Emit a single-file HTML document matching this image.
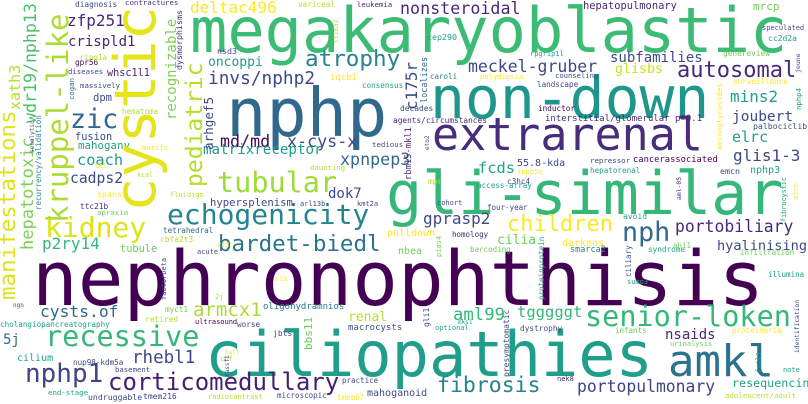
<!DOCTYPE html>
<html><head><meta charset="utf-8">
<style>
html,body{margin:0;padding:0;background:#fff;}
#cloud{position:relative;width:808px;height:404px;overflow:hidden;background:#fff;}
.w{position:absolute;white-space:nowrap;line-height:1;font-family:"DejaVu Sans Mono","Liberation Mono",monospace;}
.v{transform-origin:0 0;transform:rotate(-90deg);}
</style></head>
<body>
<div id="cloud"></div>
<script>
// horizontal words: text, left x, baseline y, font size, colour
const hWords = [
["nephronophthisis",32,305,76,"#440154"],
["megakaryoblastic",190,52,62,"#3cbb75"],
["nphp",226,137,67,"#31688e"],
["non-down",430,118,58,"#1f968b"],
["gli-similar",386,215,60,"#35b779"],
["extrarenal",432,150,45,"#472d7b"],
["ciliopathies",205,376,62,"#1f9e89"],
["amkl",668,377,44,"#2c718e"],
["senior-loken",585,327,28.5,"#35b779"],
["recessive",45,347,28.5,"#35b779"],
["kidney",45,238,28,"#dde318"],
["echogenicity",167,225,28,"#25858e"],
["tubular",217,193,28.5,"#a0da39"],
["corticomedullary",108,390,24,"#481f70"],
["nphp1",25,383,26,"#414487"],
["zic",70,130,26.7,"#31688e"],
["nph",622,243,26.7,"#31688e"],
["bardet-biedl",218,252,22.5,"#2c738e"],
["atrophy",305,67,22.6,"#26828e"],
["autosomal",677,79,22,"#482878"],
["children",507,233,22,"#fde725"],
["fibrosis",437,393,21.5,"#26828e"],
["armcx1",193,317,19,"#a8db34"],
["invs/nphp2",208,85,17.8,"#3e4989"],
["rhebl1",132,365,17.5,"#3e4989"],
["aml99",453,322,17.3,"#35b779"],
["md/md",220,147,16.7,"#46085c"],
["x-cys-x",287,147,16.7,"#3e4989"],
["xpnpep3",340,165,16.7,"#31688e"],
["nonsteroidal",400,14,16.7,"#482878"],
["meckel-gruber",468,73,16.5,"#3e4989"],
["portobiliary",675,233,16.4,"#482878"],
["portopulmonary",577,393,16.4,"#414487"],
["cysts.of",40,318,16.3,"#31688e"],
["gprasp2",423,225,16,"#3e4989"],
["glis1-3",733,162,16,"#3e4989"],
["mins2",730,103,16,"#20a386"],
["p2ry14",42,250,16,"#35b779"],
["deltac496",190,14,16,"#fde725"],
["zfp251",67,27,16,"#482878"],
["fcds",478,174,15.4,"#20a386"],
["tgggggt",517,318,15.5,"#35b779"],
["coach",77,166,15.3,"#1f9e89"],
["elrc",732,143,15,"#20a386"],
["cadps2",70,184,14.7,"#3e4989"],
["joubert",732,122,14.5,"#3e4989"],
["matrixreceptor",203,155,14.2,"#1f9e89"],
["crispld1",68,47,14,"#482475"],
["subfamilies",610,63,14,"#3e4989"],
["dok7",328,199,14,"#3e4989"],
["nsaids",665,340,14,"#482878"],
["5j",3,345,14,"#31688e"],
["hyalinising",717,252,13.6,"#3e4989"],
["glisbs",615,74,13.3,"#c8e020"],
["oncoppi",208,67,13,"#1f9e89"],
["renal",348,322,13,"#b5de2b"],
["cilia",497,245,13,"#6ece58"],
["resequencing",732,388,11.7,"#20a386"],
["mrcp",753,10,11,"#6ece58"],
["hypersplenism",210,207,10.6,"#3e4989"],
["mahogany",78,150,10.8,"#20a386"],
["dpm",93,102,10.5,"#3e4989"],
["hepatopulmonary",583,10,10.4,"#482878"],
["fusion",75,141,10.3,"#3e4989"],
["tubule",120,253,10.3,"#6ece58"],
["whsc1l1",107,78,10.2,"#482878"],
["55.8-kda",517,167,10,"#3e4989"],
["nphp3",750,174,10,"#20a386"],
["mahoganoid",367,397,10,"#3e4989"],
["cilium",17,362,10,"#20a386"],
["darkens",562,247,10,"#fde725"],
["nbea",398,255,10,"#6ece58"],
["pulldown",387,237,10,"#fde725"],
["macrocysts",348,332,9,"#3e4989"],
["oligohydramnios",263,311,9,"#2a788e"],
["iqcb1",330,82,9,"#fde725"],
["interstitial/glomerular p=0.1",545,123,9,"#482878"],
["cancerassociated",633,163,8.8,"#440154"],
["smarca2",570,253,8.5,"#26828e"],
["nsd3",217,54,8.3,"#3e4989"],
["spans",97,197,8.3,"#fde725"],
["cep290",427,40,8.3,"#20a386"],
["emcn",720,174,8.3,"#3e4989"],
["undruggable",88,400,8.2,"#3e4989"],
["palbociclib",753,129,8.2,"#3e4989"],
["tmem216",143,400,8,"#3e4989"],
["cc2d2a",768,42,8,"#20a386"],
["jbts",273,337,8,"#3e4989"],
["avoid",623,220,8,"#20a386"],
["cbfa2t3",160,243,7.9,"#b5de2b"],
["retired",145,323,7.9,"#b5de2b"],
["decades",400,112,7.9,"#3e4989"],
["diagnosis",75,8,7.8,"#3e4989"],
["ttc21b",80,210,7.8,"#482878"],
["agents/circumstances",393,124,7.8,"#482878"],
["mpr",428,185,7.8,"#b5de2b"],
["genereview",723,57,7.8,"#6ece58"],
["dystrophy",520,332,7.8,"#3e4989"],
["gpr56",75,66,7.7,"#440154"],
["myct1",165,313,7.7,"#6ece58"],
["worse",237,328,7.7,"#3e4989"],
["variceal",298,8,7.7,"#b5de2b"],
["c3hc4",507,185,7.7,"#3e4989"],
["inductor",538,112,7.7,"#440154"],
["syndrome",648,253,7.7,"#20a386"],
["tetrahedral",163,233,7.6,"#31688e"],
["cholangiopancreatography",0,327,7.6,"#20a386"],
["nup98-kdm5a",73,365,7.6,"#3e4989"],
["consensus",362,88,7.6,"#20a386"],
["access-array",477,188,7.6,"#20a386"],
["hepatorenal",590,173,7.6,"#20a386"],
["landscape",537,87,7.6,"#3e4989"],
["surveillance",733,84,7.6,"#fde725"],
["ring1a",80,60,7.5,"#b5de2b"],
["hematoma",122,114,7.5,"#b5de2b"],
["caroli",430,79,7.5,"#26828e"],
["ahi1",673,248,7.5,"#6ece58"],
["infiltration",740,255,7.5,"#6ece58"],
["illumina",768,277,7.5,"#20a386"],
["infants",615,333,7.5,"#6ece58"],
["proteinuria",732,333,7.5,"#fde725"],
["practice",342,383,7.5,"#3e4989"],
["microscopic",277,398,7.5,"#3e4989"],
["tmem67",337,400,7.5,"#fde725"],
["homology",452,237,7.5,"#482878"],
["barcoding",470,252,7.5,"#6ece58"],
["four-year",487,210,7.5,"#3e4989"],
["contractures",125,5,7.4,"#46337e"],
["massively",80,88,7.4,"#3e4989"],
["apraxia",97,215,7.4,"#6ece58"],
["end-stage",48,395,7.4,"#20a386"],
["tedious",372,147,7.4,"#3e4989"],
["repressor",590,163,7.4,"#3e4989"],
["adolescent/adult",725,398,7.4,"#b5de2b"],
["diseases",68,74,7.3,"#3e4989"],
["basement",115,372,7.3,"#3e4989"],
["leukemia",357,7,7.3,"#482878"],
["daunting",310,170,7.3,"#b5de2b"],
["motifs",142,150,7.2,"#fde725"],
["polydipsia",480,79,7.2,"#fde725"],
["inpp5e",517,174,7.2,"#fde725"],
["counseling",555,78,7.2,"#3e4989"],
["fluidigm",170,198,7,"#b5de2b"],
["zf3",217,248,7,"#fde725"],
["acute",197,255,7,"#3e4989"],
["2j",215,300,7,"#b5de2b"],
["ultrasound",195,325,7,"#440154"],
["chf",220,362,7,"#b5de2b"],
["radiocontrast",208,400,7,"#b5de2b"],
["speculated",762,31,7,"#3e4989"],
["rpgrip1l",530,57,7,"#20a386"],
["sumo3",627,285,7,"#20a386"],
["urinalysis",670,347,7,"#6ece58"],
["note",783,373,7,"#20a386"],
["nek8",557,382,7,"#482878"],
["optional",435,331,7,"#20a386"],
["sls",275,282,7,"#fde725"],
["arl13b",300,207,7,"#3e4989"],
["kmt2a",357,207,7,"#3e4989"],
["cohort",437,206,7,"#3e4989"],
["cel",95,169,6.7,"#fde725"],
["kcal",137,178,6.7,"#b5de2b"],
["ngn",13,308,6,"#3e4989"],
["bait",225,355,6,"#fde725"],
["mks1",458,325,6,"#20a386"]
];
// vertical words (reading bottom-to-top): text, left x, bottom y, font size, colour
const vWords = [
["cystic",113,212,57,"#e5e419"],
["kruppel-like",46,223,29,"#addc30"],
["manifestations",-1,300,22.5,"#dfe318"],
["pediatric",186,187,23,"#b5de2b"],
["hepatotoxic",21,250,17,"#7ad151"],
["wdr19/nphp13",24,123,16.6,"#4ac16d"],
["c175r",405,110,16,"#3e4989"],
["xath3",9,110,15,"#b5de2b"],
["recognizable",166,120,14,"#7ad151"],
["arhgef5",204,150,12.6,"#3e4989"],
["bbs11",304,350,11,"#6ece58"],
["rbm15-mkl1",406,180,8.8,"#482878"],
["localizes",422,103,8.5,"#31688e"],
["dysmorphisms",176,70,8.3,"#46337e"],
["gli1",424,327,8,"#3e4989"],
["presymptomatic",504,377,8,"#3e4989"],
["recurrency/validation",36,210,7.5,"#26828e"],
["ciliary",626,277,7.5,"#3e4989"],
["proteinprotein",539,300,7.5,"#20a386"],
["aminoglycosides",717,150,7.4,"#fde725"],
["cogan",69,100,7.3,"#31688e"],
["nphp4",796,110,7.3,"#20a386"],
["factorbeta",162,300,7,"#3e4989"],
["fstl1",757,373,7,"#20a386"],
["pias4",437,257,7,"#6ece58"],
["atrn",794,200,7,"#fde725"],
["fibrocystic",782,222,6.8,"#20a386"],
["trim32",334,43,6.5,"#b5de2b"],
["jeune",796,73,6.5,"#3e4989"],
["aml-05",677,200,6.4,"#482878"],
["identification",796,353,6.3,"#3e4989"],
["senolytic",31,153,6,"#3e4989"],
["eto2",426,150,6,"#3e4989"],
["rassf1",226,377,6,"#3e4989"]
];
const cloud = document.getElementById('cloud');
function slug(t){return t.toLowerCase().replace(/[^a-z0-9]+/g,'-').replace(/^-|-$/g,'');}
hWords.forEach(function(w){
  const el = document.createElement('div');
  el.className = 'w';
  el.textContent = w[0];
  el.style.left = w[1] + 'px';
  el.style.top = (w[2] - 0.846 * w[3]) + 'px';
  el.style.fontSize = w[3] + 'px';
  el.style.color = w[4];
  
  
  cloud.appendChild(el);
});
vWords.forEach(function(w){
  const el = document.createElement('div');
  el.className = 'w v';
  el.textContent = w[0];
  el.style.left = (w[1] - 0.086 * w[3]) + 'px';
  el.style.top = w[2] + 'px';
  el.style.fontSize = w[3] + 'px';
  el.style.color = w[4];
  
  
  cloud.appendChild(el);
});
</script>
</body></html>
